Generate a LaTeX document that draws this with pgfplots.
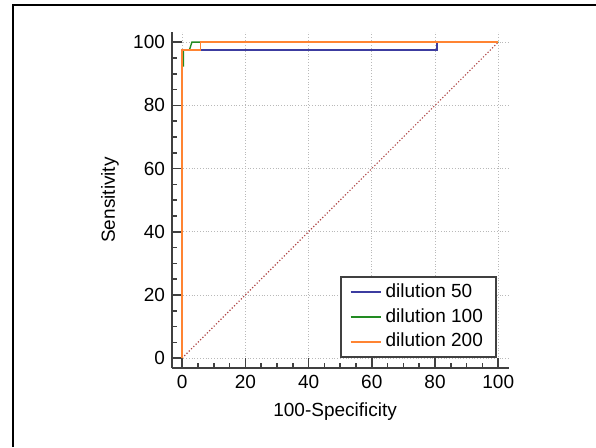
\documentclass[border=0pt]{standalone}
\usepackage{fontspec}
\setmainfont{Liberation Sans}
\usepackage{pgfplots}
\pgfplotsset{compat=1.18}

\definecolor{roc50}{HTML}{3C3CA0}
\definecolor{roc100}{HTML}{228B22}
\definecolor{roc200}{HTML}{FF8432}
\definecolor{diag}{HTML}{B04848}
\definecolor{spine}{HTML}{404040}

\begin{document}
\begin{tikzpicture}
% page = 596x447 px, 1 px = 0.5pt
\useasboundingbox (0,0) rectangle (298pt,223.5pt);
\draw[line width=1pt] (6.35pt,0) -- (6.35pt,221.15pt) -- (298pt,221.15pt);
\begin{axis}[
  at={(86pt,39.5pt)},anchor=south west,
  scale only axis,width=168.5pt,height=168pt,
  xmin=-3.2,xmax=103.4,ymin=-3.1,ymax=103.2,
  axis x line=bottom,axis y line=left,
  axis line style={-,draw=spine,line width=1.1pt},
  xtick={0,20,...,100},ytick={0,20,...,100},minor tick num=3,
  tick align=inside,major tick length=5pt,minor tick length=2.5pt,
  tick style={draw=spine,line width=0.8pt},
  grid=major,major grid style={densely dotted,gray!55,line width=0.4pt},
  /pgf/number format/assume math mode=true,
  font=\fontsize{9.5}{11}\selectfont,
  ticklabel style={font=\fontsize{9.5}{11}\selectfont},
  xlabel={100-Specificity},ylabel={Sensitivity},
  xlabel style={at={(axis description cs:0.484,-0.131)},anchor=center},
  ylabel style={at={(axis description cs:-0.184,0.5)},anchor=center},
  legend cell align=left,
  legend image code/.code={\draw[#1,line width=1pt] (0pt,0pt) -- (15pt,0pt);},
  legend style={at={(axis description cs:0.964,0.030)},anchor=south east,
    draw=spine,line width=1pt,font=\fontsize{9.5}{11}\selectfont,
    inner xsep=4.5pt,inner ysep=1.5pt,row sep=0pt},
]
\addplot[diag,densely dotted,line width=0.6pt,forget plot] coordinates {(0,0) (100,100)};
\addplot[roc50,line width=0.7pt] coordinates {(0,0) (0,97.5) (80.6,97.5) (80.6,100) (100,100)};
\addplot[roc100,line width=0.7pt] coordinates {(0,0) (0,92.5) (0.4,92.5) (0.4,97.5) (2.3,97.5) (3.1,100) (100,100)};
\addplot[roc200,line width=0.8pt] coordinates {(0,0) (0,97.5) (5.8,97.5) (5.8,100) (100,100)};
\legend{dilution 50,dilution 100,dilution 200}
\end{axis}
\end{tikzpicture}
\end{document}
